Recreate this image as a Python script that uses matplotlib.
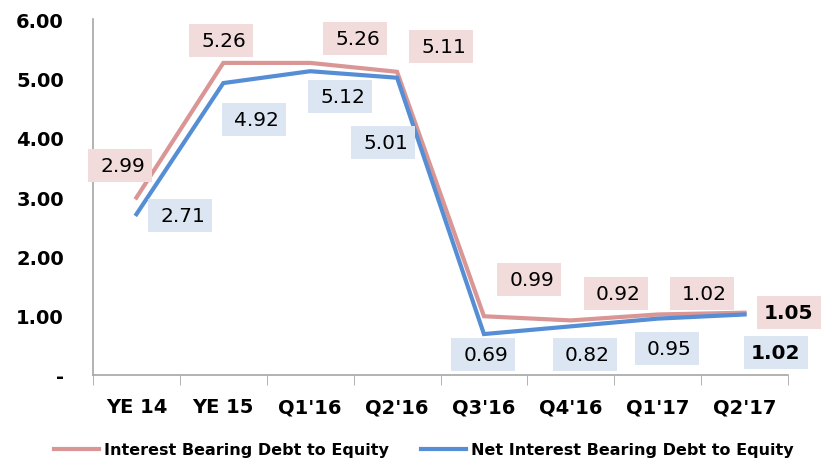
import matplotlib.pyplot as plt
from matplotlib.lines import Line2D
from matplotlib.patches import Rectangle
from matplotlib.transforms import ScaledTranslation

periods = ["YE 14", "YE 15", "Q1'16", "Q2'16", "Q3'16", "Q4'16", "Q1'17", "Q2'17"]
debt_to_equity = [2.99, 5.26, 5.26, 5.11, 0.99, 0.92, 1.02, 1.05]
net_debt_to_equity = [2.71, 4.92, 5.12, 5.01, 0.69, 0.82, 0.95, 1.02]
yticks = [0, 1, 2, 3, 4, 5, 6]
ytick_labels = ['-', '1.00', '2.00', '3.00', '4.00', '5.00', '6.00']

red = '#D99694'
blue = '#558ED5'
red_fill = '#F2DCDB'
blue_fill = '#DCE6F2'

# label box centres relative to each point, in pixels (x right, y up)
red_offsets = [(-16, 32), (-2, 22), (45, 24), (44, 25), (45, 37), (45, 27), (44, 21), (44, 0)]
blue_offsets = [(44, -1), (31, -36), (30, -25), (-14, -65), (-1, -20), (14, -28), (9, -30), (31, -38)]
box_w, box_h = 64, 33

fig = plt.figure(figsize=(8.21, 4.60), dpi=100)
ax = fig.add_axes([93 / 821, 84 / 460, 695 / 821, 356 / 460])

x = list(range(len(periods)))
ax.plot(x, debt_to_equity, color=red, lw=3, solid_joinstyle='miter', zorder=3)
ax.plot(x, net_debt_to_equity, color=blue, lw=3, solid_joinstyle='miter', zorder=3)

px = 72 / fig.dpi


def add_labels(values, offsets, fill):
    for i, (v, (dx, dy)) in enumerate(zip(values, offsets)):
        last = i == len(values) - 1
        anchor = ScaledTranslation(i, v, ax.transData)
        ax.add_patch(Rectangle((dx - box_w / 2, dy - box_h / 2), box_w, box_h,
                               transform=anchor, fc=fill, ec='none',
                               clip_on=False, zorder=4))
        # Excel-style right aligned value inside the box
        ax.annotate(f'{v:.2f}', (i, v), xytext=((dx + box_w / 2 - 7) * px, dy * px),
                    textcoords='offset points', ha='right', va='center', fontsize=14.5,
                    fontweight='bold' if last else 'normal', color='black',
                    annotation_clip=False, zorder=5)


add_labels(debt_to_equity, red_offsets, red_fill)
add_labels(net_debt_to_equity, blue_offsets, blue_fill)

ax.set_xlim(-0.5, len(periods) - 0.5)
ax.set_ylim(0, 6)
ax.set_xticks(x)
ax.set_xticklabels(periods, fontsize=14, fontweight='bold')
ax.set_xticks([i - 0.5 for i in range(len(periods) + 1)], minor=True)
ax.tick_params(axis='x', which='major', length=0, pad=16)
ax.tick_params(axis='x', which='minor', length=7, color='#A6A6A6', direction='out')
ax.set_yticks(yticks)
ax.set_yticklabels(ytick_labels, fontsize=14, fontweight='bold')
ax.tick_params(axis='y', length=0, pad=21)

for side in ['top', 'right']:
    ax.spines[side].set_visible(False)
for side in ['left', 'bottom']:
    ax.spines[side].set_color('#A6A6A6')
    ax.spines[side].set_linewidth(1.2)

handles = [Line2D([], [], color=red, lw=3), Line2D([], [], color=blue, lw=3)]
fig.legend(handles, ['Interest Bearing Debt to Equity', 'Net Interest Bearing Debt to Equity'],
           loc='center', bbox_to_anchor=(424 / 821, 9 / 460), ncol=2, frameon=False,
           prop={'weight': 'bold', 'size': 11.5}, handlelength=2.8, handletextpad=0.35,
           columnspacing=2.0, borderpad=0, borderaxespad=0)

fig.savefig('out.png', dpi=100)
